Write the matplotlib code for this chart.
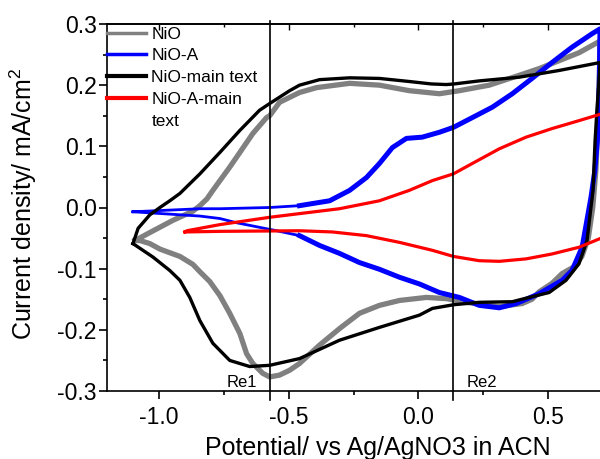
import matplotlib
matplotlib.use("Agg")
import matplotlib.pyplot as plt
from matplotlib.lines import Line2D
from matplotlib.ticker import MultipleLocator, FormatStrFormatter

plt.rcParams['font.family'] = ['Liberation Sans', 'DejaVu Sans']
plt.rcParams['axes.unicode_minus'] = False
plt.rcParams['mathtext.fontset'] = 'custom'
plt.rcParams['mathtext.rm'] = 'Liberation Sans'
plt.rcParams['mathtext.it'] = 'Liberation Sans:italic'
plt.rcParams['mathtext.bf'] = 'Liberation Sans:bold'

# NiO (gray)
nio_x = [-1.092, -1.035, -0.946, -0.869, -0.842, -0.815, -0.792, -0.727, -0.688, -0.638, -0.585, -0.573,
         -0.535, -0.458, -0.392, -0.265, -0.150, -0.035, 0.081, 0.158, 0.273, 0.388, 0.465, 0.542, 0.619, 0.700,
         0.698, 0.692, 0.684, 0.672, 0.655, 0.630, 0.600, 0.554, 0.515, 0.465, 0.438, 0.400, 0.312, 0.235,
         0.185, 0.108, 0.031, -0.073, -0.150, -0.227, -0.304, -0.381, -0.458, -0.496, -0.535, -0.573,
         -0.600, -0.638, -0.662, -0.688, -0.727, -0.765, -0.804, -0.842, -0.869, -0.919, -0.996, -1.035,
         -1.073, -1.092]
nio_y = [-0.054, -0.041, -0.021, -0.006, 0.003, 0.014, 0.028, 0.066, 0.090, 0.121, 0.147, 0.150,
         0.172, 0.188, 0.196, 0.203, 0.200, 0.191, 0.186, 0.191, 0.200, 0.216, 0.227, 0.240, 0.253, 0.272,
         0.220, 0.140, 0.060, 0.000, -0.050, -0.080, -0.097, -0.108, -0.124, -0.138, -0.150, -0.157, -0.162,
         -0.158, -0.155, -0.149, -0.147, -0.152, -0.160, -0.173, -0.198, -0.225, -0.255, -0.266, -0.274,
         -0.277, -0.271, -0.255, -0.239, -0.206, -0.173, -0.144, -0.121, -0.105, -0.093, -0.080, -0.068,
         -0.059, -0.054, -0.054]

# NiO-A (blue)
nioa_x = [-1.100, -0.842, -0.765, -0.573, -0.458, -0.342, -0.265, -0.200, -0.150, -0.100, -0.046, 0.015,
          0.081, 0.135, 0.208, 0.285, 0.362, 0.438, 0.515, 0.592, 0.669, 0.700,
          0.697, 0.690, 0.680, 0.665, 0.631, 0.592, 0.554, 0.465, 0.377, 0.312, 0.235, 0.158, 0.081, 0.004,
          -0.073, -0.150, -0.227, -0.304, -0.381, -0.458, -0.546, -0.700, -0.765, -0.842, -1.100]
nioa_y = [-0.007, -0.002, -0.002, 0.000, 0.003, 0.011, 0.028, 0.049, 0.072, 0.098, 0.113, 0.115,
          0.123, 0.131, 0.147, 0.164, 0.186, 0.211, 0.237, 0.262, 0.284, 0.292,
          0.200, 0.110, 0.060, 0.016, -0.065, -0.103, -0.119, -0.141, -0.157, -0.164, -0.160, -0.147, -0.139,
          -0.125, -0.114, -0.101, -0.090, -0.075, -0.062, -0.046, -0.038, -0.025, -0.018, -0.014, -0.007]

# NiO-main text (black)
niom_x = [-1.100, -1.080, -1.035, -0.996, -0.958, -0.919, -0.842, -0.765, -0.688, -0.612, -0.573, -0.496,
          -0.458, -0.381, -0.265, -0.150, -0.035, 0.050, 0.108, 0.138, 0.235, 0.388, 0.542, 0.700,
          0.695, 0.688, 0.681, 0.673, 0.650, 0.619, 0.569, 0.504, 0.427, 0.362, 0.235, 0.135, 0.054, 0.004,
          -0.150, -0.304, -0.458, -0.573, -0.650, -0.727, -0.792, -0.842, -0.881, -0.919, -0.958, -1.023,
          -1.100]
niom_y = [-0.059, -0.034, -0.012, 0.000, 0.011, 0.023, 0.055, 0.090, 0.126, 0.159, 0.170, 0.191,
          0.200, 0.209, 0.212, 0.211, 0.206, 0.202, 0.201, 0.202, 0.207, 0.213, 0.224, 0.237,
          0.200, 0.158, 0.109, 0.028, -0.054, -0.092, -0.119, -0.139, -0.147, -0.154, -0.155, -0.159, -0.165,
          -0.176, -0.196, -0.217, -0.247, -0.258, -0.260, -0.250, -0.222, -0.185, -0.147, -0.119, -0.103,
          -0.081, -0.059]

# NiO-A-main text (red)
nioam_x = [-0.900, -0.892, -0.765, -0.573, -0.458, -0.304, -0.150, -0.035, 0.054, 0.135, 0.208, 0.312,
           0.415, 0.515, 0.619, 0.705,
           0.705, 0.619, 0.515, 0.415, 0.312, 0.235, 0.135, 0.054, -0.073, -0.200, -0.331, -0.458, -0.765,
           -0.900]
nioam_y = [-0.040, -0.038, -0.028, -0.016, -0.010, -0.002, 0.011, 0.028, 0.044, 0.055, 0.072, 0.096,
           0.115, 0.129, 0.142, 0.153,
           -0.050, -0.065, -0.076, -0.084, -0.088, -0.087, -0.080, -0.070, -0.057, -0.046, -0.040, -0.038,
           -0.039, -0.040]

labels = ['NiO', 'NiO-A', 'NiO-main text', 'NiO-A-main\ntext']
ref_x = [-0.573, 0.135]
ref_labels = ['Re1', 'Re2']

fig = plt.figure(figsize=(6.0, 4.59), dpi=100)
ax = fig.add_axes([107/600, 68/459, 493/600, 367/459])

l1, = ax.plot(nio_x, nio_y, color='#808080', lw=3.8, solid_joinstyle='round', label=labels[0])
l2, = ax.plot(nioa_x, nioa_y, color='#0000ff', lw=2.0, solid_joinstyle='round', label=labels[1])
# thicker (noisy) part of the NiO-A scan
ax.plot(nioa_x[4:42], nioa_y[4:42], color='#0000ff', lw=3.6, solid_joinstyle='round')
l3, = ax.plot(niom_x, niom_y, color='black', lw=2.4, solid_joinstyle='round', label=labels[2])
l4, = ax.plot(nioam_x, nioam_y, color='#ff0000', lw=2.3, solid_joinstyle='round', label=labels[3])

for xv in ref_x:
    ax.axvline(xv, ymin=-0.025, ymax=1.008, color='black', lw=1.2, clip_on=False)
ax.text(ref_x[0] - 0.05, -0.294, ref_labels[0], ha='right', va='baseline', fontsize=12)
ax.text(ref_x[1] + 0.05, -0.294, ref_labels[1], ha='left', va='baseline', fontsize=12)

ax.set_xlim(-1.2, 0.70)
ax.set_ylim(-0.3, 0.3)
ax.xaxis.set_major_locator(MultipleLocator(0.5))
ax.xaxis.set_minor_locator(MultipleLocator(0.25))
ax.yaxis.set_major_locator(MultipleLocator(0.1))
ax.yaxis.set_minor_locator(MultipleLocator(0.05))
ax.xaxis.set_major_formatter(FormatStrFormatter('%.1f'))
ax.yaxis.set_major_formatter(FormatStrFormatter('%.1f'))

ax.spines['right'].set_visible(False)
for s in ['left', 'bottom', 'top']:
    ax.spines[s].set_linewidth(1.2)
ax.tick_params(axis='both', which='major', direction='out', length=5.5, width=1.2, labelsize=16.5)
ax.tick_params(axis='both', which='minor', direction='out', length=3, width=1.2)
ax.tick_params(axis='x', which='major', pad=5)
ax.tick_params(axis='y', which='major', pad=2)

top = ax.secondary_xaxis('top')
top.xaxis.set_major_locator(MultipleLocator(0.5))
top.xaxis.set_minor_locator(MultipleLocator(0.25))
top.tick_params(which='major', direction='in', length=4, width=1.0, labeltop=False)
top.tick_params(which='minor', direction='in', length=2.5, width=1.0)
top.spines['top'].set_linewidth(1.2)

ax.set_xlabel('Potential/ vs Ag/AgNO3 in ACN', fontsize=18)
ax.set_ylabel('Current density/ mA/cm$^2$', fontsize=18)
ax.xaxis.set_label_coords(0.549, -0.122)
ax.yaxis.set_label_coords(-0.138, 0.511)

# legend: the wrapped last label is split so its line sits beside the first text line
last_lines = labels[3].split('\n')
leg_handles = [l1, l2, l3, l4, Line2D([], [], color='none')]
leg_labels = labels[:3] + last_lines
leg = ax.legend(leg_handles, leg_labels, loc='upper left', bbox_to_anchor=(0.0, 0.993), frameon=False,
                fontsize=12.5, handlelength=2.25, handletextpad=0.3, labelspacing=0.38,
                borderpad=0.0, borderaxespad=0.0)
for ln, w in zip(leg.get_lines(), [2.5, 2.5, 3.0, 3.0, 0.0]):
    ln.set_linewidth(w)

fig.savefig('out.png', dpi=100)
